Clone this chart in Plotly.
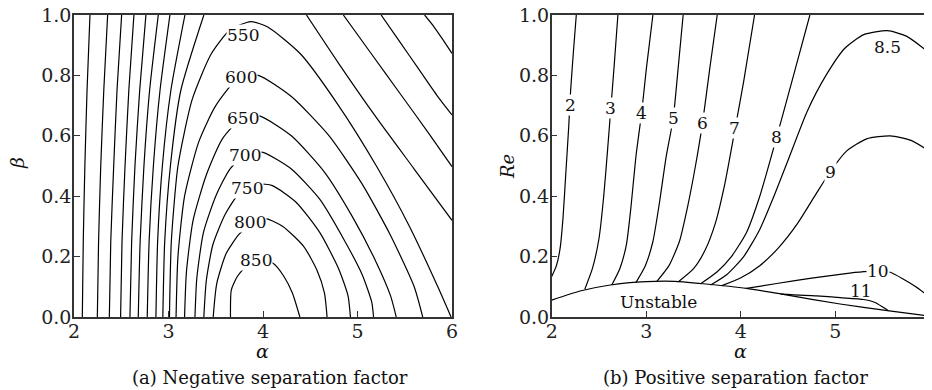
import plotly.graph_objects as go

# ---------------- Panel (a): Negative separation factor ----------------
# Left family of nearly vertical lines: alpha at beta = 0, .25, .5, .75, 1
a_left_beta = [0.0, 0.25, 0.5, 0.75, 1.0]
a_left_L1 = [2.088, 2.098, 2.115, 2.138, 2.169]
a_left_L2 = [2.247, 2.260, 2.283, 2.315, 2.356]
a_left_L3 = [2.374, 2.389, 2.420, 2.455, 2.504]
a_left_L4 = [2.493, 2.508, 2.540, 2.580, 2.634]
a_left_L5 = [2.592, 2.610, 2.645, 2.695, 2.761]
a_left_L6 = [2.680, 2.700, 2.740, 2.800, 2.892]
a_left_L7 = [2.775, 2.795, 2.840, 2.910, 3.015]
a_left_L8 = [2.867, 2.885, 2.935, 3.025, 3.174]
a_left_L9 = [2.940, 2.960, 3.020, 3.130, 3.374]

# Closed-top contours (levels 550 ... 850)
a550_x = [3.01, 3.03, 3.10, 3.25, 3.45, 3.65, 3.87, 4.05, 4.40, 4.80, 5.20, 5.55, 5.85, 5.99]
a550_y = [0.0, 0.25, 0.50, 0.72, 0.87, 0.95, 0.978, 0.96, 0.87, 0.70, 0.50, 0.30, 0.10, 0.0]
a600_x = [3.08, 3.10, 3.17, 3.32, 3.50, 3.75, 3.95, 4.30, 4.70, 5.05, 5.35, 5.60, 5.69]
a600_y = [0.0, 0.20, 0.40, 0.58, 0.70, 0.795, 0.80, 0.73, 0.60, 0.44, 0.27, 0.10, 0.0]
a650_x = [3.17, 3.19, 3.26, 3.40, 3.57, 3.80, 3.97, 4.30, 4.65, 4.95, 5.20, 5.35, 5.41]
a650_y = [0.0, 0.15, 0.32, 0.47, 0.59, 0.665, 0.665, 0.60, 0.48, 0.33, 0.18, 0.07, 0.0]
a700_x = [3.28, 3.30, 3.37, 3.50, 3.65, 3.85, 4.00, 4.30, 4.60, 4.85, 5.05, 5.15, 5.17]
a700_y = [0.0, 0.13, 0.28, 0.40, 0.49, 0.545, 0.545, 0.49, 0.39, 0.26, 0.14, 0.05, 0.0]
a750_x = [3.374, 3.40, 3.47, 3.60, 3.75, 3.95, 4.10, 4.35, 4.60, 4.80, 4.90, 4.925]
a750_y = [0.0, 0.12, 0.24, 0.34, 0.41, 0.44, 0.435, 0.38, 0.28, 0.16, 0.07, 0.0]
a800_x = [3.473, 3.51, 3.61, 3.75, 3.93, 4.04, 4.21, 4.43, 4.57, 4.65, 4.678]
a800_y = [0.0, 0.11, 0.21, 0.275, 0.32, 0.325, 0.30, 0.234, 0.156, 0.08, 0.0]
a850_x = [3.656, 3.665, 3.73, 3.83, 3.97, 4.11, 4.22, 4.31, 4.39]
a850_y = [0.0, 0.09, 0.135, 0.17, 0.19, 0.177, 0.135, 0.08, 0.0]

# Upper-right family: alpha / beta pairs from the top edge to the right edge
a_r1_x = [4.46, 4.80, 5.20, 5.60, 6.00]
a_r1_y = [1.00, 0.84, 0.66, 0.49, 0.32]
a_r2_x = [4.85, 5.15, 5.45, 5.75, 6.00]
a_r2_y = [1.00, 0.87, 0.74, 0.61, 0.498]
a_r3_x = [5.25, 5.45, 5.65, 5.85, 6.00]
a_r3_y = [1.00, 0.91, 0.82, 0.73, 0.669]
a_r4_x = [5.71, 5.80, 5.90, 6.00]
a_r4_y = [1.00, 0.965, 0.92, 0.873]

a_label_text = ["550", "600", "650", "700", "750", "800", "850"]
a_label_x = [3.79, 3.77, 3.79, 3.81, 3.83, 3.86, 3.93]
a_label_y = [0.934, 0.794, 0.658, 0.536, 0.426, 0.316, 0.189]

# ---------------- Panel (b): Positive separation factor ----------------
b2_x = [2.00, 2.05, 2.09, 2.12, 2.15, 2.18, 2.20, 2.23, 2.26]
b2_y = [0.134, 0.17, 0.23, 0.33, 0.48, 0.63, 0.75, 0.88, 1.0]
b3_x = [2.35, 2.43, 2.50, 2.55, 2.59, 2.625, 2.66, 2.70]
b3_y = [0.092, 0.16, 0.26, 0.40, 0.55, 0.69, 0.83, 1.0]
b4_x = [2.635, 2.72, 2.79, 2.84, 2.89, 2.95, 3.00, 3.07]
b4_y = [0.106, 0.16, 0.24, 0.37, 0.53, 0.674, 0.82, 1.0]
b5_x = [2.89, 2.99, 3.07, 3.14, 3.21, 3.285, 3.33, 3.39]
b5_y = [0.114, 0.17, 0.25, 0.38, 0.53, 0.658, 0.80, 1.0]
b6_x = [3.11, 3.24, 3.35, 3.44, 3.52, 3.595, 3.67, 3.75]
b6_y = [0.117, 0.17, 0.25, 0.37, 0.50, 0.643, 0.82, 1.0]
b7_x = [3.34, 3.50, 3.62, 3.73, 3.83, 3.94, 4.03, 4.145]
b7_y = [0.117, 0.16, 0.22, 0.31, 0.44, 0.625, 0.78, 1.0]
b8_x = [3.57, 3.75, 3.90, 4.06, 4.20, 4.38, 4.54, 4.73]
b8_y = [0.109, 0.15, 0.20, 0.28, 0.40, 0.597, 0.78, 1.0]
b85_x = [3.68, 3.85, 4.03, 4.20, 4.35, 4.50, 4.70, 4.90, 5.10, 5.30, 5.55, 5.75, 6.00]
b85_y = [0.106, 0.14, 0.20, 0.29, 0.40, 0.52, 0.68, 0.80, 0.89, 0.935, 0.948, 0.93, 0.873]
b9_x = [3.80, 4.00, 4.20, 4.40, 4.60, 4.80, 4.945, 5.12, 5.33, 5.58, 5.80, 6.00]
b9_y = [0.104, 0.13, 0.17, 0.23, 0.31, 0.41, 0.481, 0.55, 0.59, 0.60, 0.585, 0.548]
b10_x = [4.06, 4.38, 4.73, 5.09, 5.30, 5.45, 5.58, 5.72, 5.85, 6.00]
b10_y = [0.095, 0.111, 0.128, 0.143, 0.150, 0.153, 0.148, 0.125, 0.10, 0.065]
b11_x = [4.42, 4.80, 5.05, 5.30, 5.42, 5.50, 5.56]
b11_y = [0.076, 0.070, 0.064, 0.058, 0.048, 0.033, 0.021]
b_unstable_x = [2.00, 2.30, 2.62, 3.00, 3.30, 3.57, 4.06, 4.48, 5.05, 5.55, 6.00]
b_unstable_y = [0.056, 0.086, 0.106, 0.117, 0.118, 0.111, 0.095, 0.073, 0.043, 0.021, 0.003]

b_label_text = ["2", "3", "4", "5", "6", "7", "8", "9", "10"]
b_label_x = [2.194, 2.624, 2.952, 3.286, 3.596, 3.938, 4.379, 4.943, 5.45]
b_label_y = [0.702, 0.691, 0.674, 0.658, 0.643, 0.625, 0.597, 0.481, 0.153]
b_free_text = ["8.5", "11", "Unstable"]
b_free_x = [5.546, 5.27, 3.128]
b_free_y = [0.895, 0.085, 0.051]

x_ticks = [2, 3, 4, 5, 6]
y_ticks = [0.0, 0.2, 0.4, 0.6, 0.8, 1.0]
y_ticktext = ["0.0", "0.2", "0.4", "0.6", "0.8", "1.0"]

FONT = "DejaVu Serif"
LINE = dict(color="black", width=1.2, shape="spline", smoothing=0.6)

fig = go.Figure()


def add_line(xs, ys, panel):
    fig.add_trace(go.Scatter(
        x=xs, y=ys, mode="lines", line=LINE, hoverinfo="skip",
        showlegend=False,
        xaxis="x" if panel == 1 else "x2",
        yaxis="y" if panel == 1 else "y2"))


for L in [a_left_L1, a_left_L2, a_left_L3, a_left_L4, a_left_L5,
          a_left_L6, a_left_L7, a_left_L8, a_left_L9]:
    add_line(L, a_left_beta, 1)
for xs, ys in [(a550_x, a550_y), (a600_x, a600_y), (a650_x, a650_y),
               (a700_x, a700_y), (a750_x, a750_y), (a800_x, a800_y),
               (a850_x, a850_y), (a_r1_x, a_r1_y), (a_r2_x, a_r2_y),
               (a_r3_x, a_r3_y), (a_r4_x, a_r4_y)]:
    add_line(xs, ys, 1)

for xs, ys in [(b2_x, b2_y), (b3_x, b3_y), (b4_x, b4_y), (b5_x, b5_y),
               (b6_x, b6_y), (b7_x, b7_y), (b8_x, b8_y), (b85_x, b85_y),
               (b9_x, b9_y), (b10_x, b10_y), (b11_x, b11_y),
               (b_unstable_x, b_unstable_y)]:
    add_line(xs, ys, 2)

annotations = []
for t, x, y in zip(a_label_text, a_label_x, a_label_y):
    annotations.append(dict(text=t, x=x, y=y, xref="x", yref="y",
                            xanchor="center", yanchor="middle",
                            showarrow=False, bgcolor="white", borderpad=0,
                            font=dict(family=FONT, size=17, color="#111")))
for t, x, y in zip(b_label_text, b_label_x, b_label_y):
    annotations.append(dict(text=t, x=x, y=y, xref="x2", yref="y2",
                            xanchor="center", yanchor="middle",
                            showarrow=False, bgcolor="white", borderpad=0,
                            font=dict(family=FONT, size=17, color="#111")))
for t, x, y in zip(b_free_text, b_free_x, b_free_y):
    annotations.append(dict(text=t, x=x, y=y, xref="x2", yref="y2",
                            xanchor="center", yanchor="middle",
                            showarrow=False,
                            font=dict(family=FONT, size=17, color="#111")))

# The page body adds an 8px margin, so the figure is laid out in page pixels
# minus this offset.
OFF = 8
W, H = 932 - OFF, 390 - OFF


def fx(px):
    return (px - OFF) / W


def fy(py):
    return 1 - (py - OFF) / H


def paper_note(text, px, py, size, angle=0):
    return dict(text=text, x=fx(px), y=fy(py), xref="paper", yref="paper",
                xanchor="center", yanchor="middle", textangle=angle,
                showarrow=False, font=dict(family=FONT, size=size, color="#111"))


annotations += [
    paper_note("<i>α</i>", 262, 351, 19),
    paper_note("<i>β</i>", 17, 163, 19, -90),
    paper_note("<i>α</i>", 740, 351, 19),
    paper_note("<i>Re</i>", 507, 166, 18, -90),
    paper_note("(a) Negative separation factor", 270, 377, 18),
    paper_note("(b) Positive separation factor", 735, 377, 18),
]

ax_common = dict(showgrid=False, zeroline=False, showline=True, mirror=True,
                 linecolor="#333", linewidth=1.5, ticks="inside", ticklen=6,
                 tickcolor="#333", tickwidth=1.2, automargin=False,
                 ticklabeloverflow="allow",
                 tickfont=dict(family=FONT, size=19, color="#222"))
x_extra = dict(ticklabelstandoff=-4)
y_extra = dict(ticklabelstandoff=-3)

ydom = [fy(317), fy(15)]
fig.update_layout(
    width=W, height=H, margin=dict(l=0, r=0, t=0, b=0, pad=0),
    paper_bgcolor="white", plot_bgcolor="white",
    xaxis=dict(domain=[fx(74), fx(452)], range=[2, 6], tickvals=x_ticks,
               anchor="y", **ax_common, **x_extra),
    yaxis=dict(domain=ydom, range=[0, 1], tickvals=y_ticks, ticktext=y_ticktext,
               anchor="x", **ax_common, **y_extra),
    xaxis2=dict(domain=[fx(551.7), fx(930)], range=[2, 6], tickvals=x_ticks,
                anchor="y2", **ax_common, **x_extra),
    yaxis2=dict(domain=ydom, range=[0, 1], tickvals=y_ticks, ticktext=y_ticktext,
                anchor="x2", **ax_common, **y_extra),
    annotations=annotations,
)

fig.write_html("out.html")
